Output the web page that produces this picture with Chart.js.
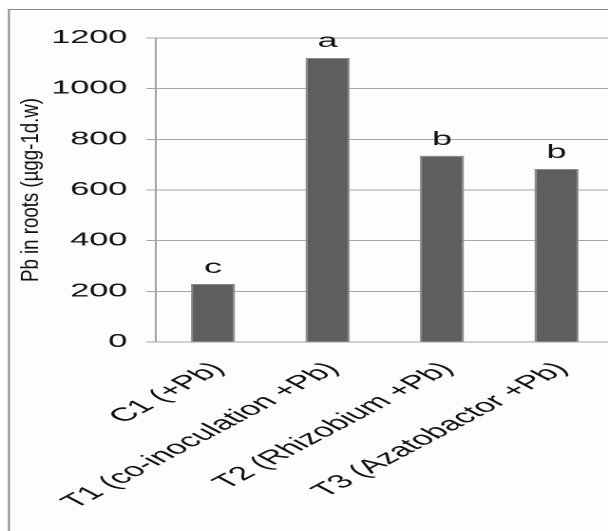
<!DOCTYPE html>
<html><head><meta charset="utf-8">
<script src="https://cdn.jsdelivr.net/npm/chart.js@4"></script>
<style>
html,body{margin:0;padding:0;background:#fff;overflow:hidden;width:608px;height:531px}
#wrap{position:absolute;left:0;top:0;width:323px;height:531px;transform:scaleX(1.9);transform-origin:0 0}
canvas{display:block}
</style></head><body>
<div id="wrap"><canvas id="c" width="323" height="531"></canvas></div>
<script>
const categories = ["C1 (+Pb)", "T1 (co-inoculation +Pb)", "T2 (Rhizobium +Pb)", "T3 (Azatobactor +Pb)"];
const pbRoots = [229, 1121, 735, 683];
const significance = ["c", "a", "b", "b"];
const yTicks = [0, 200, 400, 600, 800, 1000, 1200];
const yTitle = "Pb in roots (\u00b5gg-1d.w)";

const FONT = "'Liberation Sans', Arial, sans-serif";

const framePlugin = {
  id: 'frame',
  beforeDraw(chart) {
    const ctx = chart.ctx;
    ctx.save();
    ctx.fillStyle = '#ffffff';
    ctx.fillRect(0, 0, chart.width, chart.height);
    ctx.fillStyle = '#fdfdfd';
    ctx.fillRect(4.7, 9.5, chart.width, chart.height);
    ctx.strokeStyle = '#8a8a8a';
    ctx.lineWidth = 1;
    ctx.beginPath();
    ctx.moveTo(4.7, chart.height);
    ctx.lineTo(4.7, 9.5);
    ctx.lineTo(chart.width, 9.5);
    ctx.stroke();
    ctx.restore();
  }
};

const lettersPlugin = {
  id: 'letters',
  afterDatasetsDraw(chart) {
    const ctx = chart.ctx;
    const meta = chart.getDatasetMeta(0);
    ctx.save();
    ctx.fillStyle = '#111';
    ctx.font = "19px " + FONT;
    ctx.textAlign = 'center';
    ctx.textBaseline = 'alphabetic';
    meta.data.forEach((el, i) => {
      ctx.fillText(significance[i], el.x, el.y - 11);
    });
    ctx.restore();
  }
};

const titlePlugin = {
  id: 'ytitle',
  afterDraw(chart) {
    const ctx = chart.ctx;
    const a = chart.chartArea;
    ctx.save();
    ctx.font = "12.5px " + FONT;
    const w = ctx.measureText(yTitle).width;
    ctx.translate(16.3, (a.top + a.bottom) / 2);
    ctx.rotate(-Math.PI / 2);
    ctx.scale(184 / w, 1);
    ctx.fillStyle = '#111';
    ctx.textAlign = 'center';
    ctx.textBaseline = 'middle';
    ctx.fillText(yTitle, 0, 0);
    ctx.restore();
  }
};

new Chart(document.getElementById('c'), {
  type: 'bar',
  data: {
    labels: categories,
    datasets: [{
      data: pbRoots,
      backgroundColor: '#5e5e5e',
      borderColor: '#8a8a8a',
      borderWidth: 1,
      barPercentage: 0.385,
      categoryPercentage: 1.0
    }]
  },
  options: {
    responsive: false,
    animation: false,
    devicePixelRatio: 2,
    layout: { padding: { left: 0, top: 38, right: 0, bottom: 0 } },
    plugins: { legend: { display: false }, tooltip: { enabled: false } },
    scales: {
      x: {
        grid: { display: false, drawTicks: false },
        border: { display: true, color: '#a3a3a3', width: 1 },
        ticks: {
          minRotation: 45, maxRotation: 45, autoSkip: false,
          padding: 16,
          labelOffset: 3,
          color: '#111',
          font: { family: FONT, size: 19 }
        },
        afterFit(s) { s.height = 531 - 342; s.paddingLeft = 0; s.paddingRight = 0; }
      },
      y: {
        min: 0, max: 1200,
        afterBuildTicks(s) { s.ticks = yTicks.map(v => ({ value: v })); },
        grid: { color: '#a8a8a8', lineWidth: 1, tickLength: 5, drawTicks: true },
        border: { display: true, color: '#a3a3a3', width: 1 },
        ticks: {
          padding: 10,
          color: '#111',
          font: { family: FONT, size: 18 },
          callback: v => String(v)
        },
        afterFit(s) { s.width = 82; s.paddingTop = 0; s.paddingBottom = 0; }
      }
    }
  },
  plugins: [framePlugin, lettersPlugin, titlePlugin]
});
</script>
</body></html>
